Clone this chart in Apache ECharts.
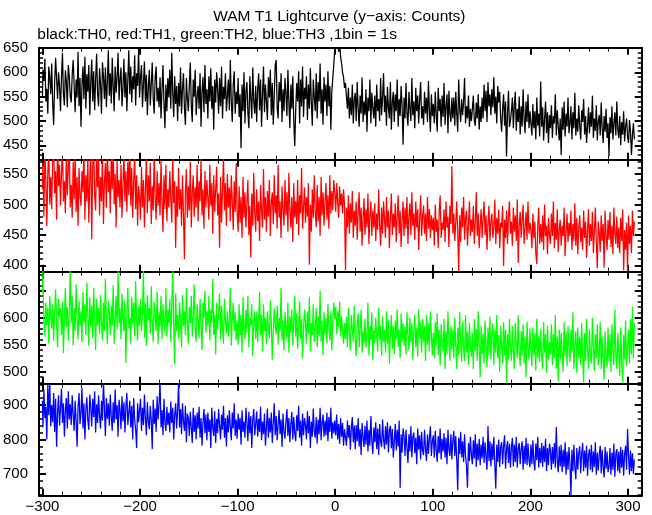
<!DOCTYPE html>
<html><head><meta charset="utf-8">
<script src="https://cdn.jsdelivr.net/npm/echarts@6/dist/echarts.min.js"></script>
<style>html,body{margin:0;padding:0;background:#fff}#c{width:652px;height:515px}</style>
</head><body><div id="c"></div>
<script>
// time of first bin (s); 1 bin = 1 s
const tStart = -300;
// TH0 (black)
const th0 = [
548,605,582,628,540,566,515,612,590,555,
618,535,492,578,630,588,545,600,572,520,
590,640,556,532,604,581,528,615,592,550,
538,596,625,572,518,585,548,642,530,588,
488,575,612,545,632,525,596,560,615,512,
580,626,540,602,522,585,638,556,530,608,
575,515,620,592,545,610,528,580,645,552,
598,536,630,570,520,612,558,590,640,542,
585,610,530,568,628,548,600,520,585,645,
555,612,538,592,565,635,532,598,572,648,
548,590,615,528,578,622,540,595,512,570,
605,532,575,620,548,515,590,612,540,568,
528,590,505,565,615,538,485,575,520,588,
548,605,525,640,560,508,592,535,572,500,
578,530,610,515,565,598,525,492,588,545,
520,575,620,532,498,585,550,605,512,548,
572,525,598,488,560,590,518,615,535,565,
505,592,540,608,525,572,482,585,538,600,
565,515,588,530,612,505,570,545,598,520,
552,585,522,625,538,498,575,602,515,560,
535,588,508,555,444,575,520,600,495,562,
580,518,485,592,548,505,610,540,515,572,
498,565,598,522,585,488,555,612,518,575,
540,502,590,548,605,512,578,492,550,615,
625,528,505,580,540,598,498,565,520,588,
555,510,605,538,485,575,525,592,500,448,
522,578,540,602,495,585,530,612,508,568,
545,592,502,575,525,608,538,490,585,550,
520,598,505,580,540,618,515,565,492,590,
540,575,510,602,530,572,
482,
560,588,615,648,665,655,670,642,660,632,618,600,590,568,578,550,
525,568,505,548,512,575,495,545,
558,500,580,525,488,552,515,590,498,540,
512,565,478,548,520,585,495,558,528,505,
552,488,575,520,545,500,588,512,548,598,
518,552,490,570,528,505,580,482,540,560,
498,555,520,585,488,545,510,572,530,451,
548,505,578,515,490,560,525,500,588,512,
540,485,568,520,552,495,545,580,505,530,
492,560,515,548,498,582,520,478,555,510,
535,495,560,512,478,568,520,545,488,552,
508,578,492,530,555,475,562,515,498,548,
505,548,490,560,515,478,585,525,498,545,
512,540,588,495,530,505,552,488,525,500,
525,552,500,490,538,505,555,482,530,498,
548,505,575,520,562,498,580,530,555,512,
565,528,590,515,550,495,572,538,560,505,
478,525,555,490,540,427,515,562,488,500,
520,548,485,532,560,480,525,498,550,472,
530,488,565,505,475,540,498,555,485,520,
495,470,535,485,520,462,548,490,515,468,
581,488,528,460,505,540,475,518,455,512,
485,532,465,510,495,555,470,522,490,460,
505,430,528,482,540,468,515,488,548,475,
495,530,462,518,485,558,470,505,478,532,
490,462,522,498,545,472,510,455,488,528,
475,518,488,552,465,505,480,532,460,500,
512,470,538,485,455,510,478,525,465,495,
427,508,475,530,462,495,518,470,540,482,
465,510,450,498,472,520,458,488,505,468,
455,502,478,430,470,495,462
];
// TH1 (red)
const th1 = [
525,568,480,590,538,464,552,595,500,545,
492,578,598,518,555,475,605,530,565,498,
550,600,505,538,485,588,515,560,592,495,
532,478,570,508,585,488,545,465,560,515,
498,555,520,592,475,548,505,578,470,540,
595,443,560,605,515,490,588,528,575,482,
545,505,585,468,535,568,495,600,520,555,
485,578,525,598,500,550,462,572,512,540,
495,565,478,535,585,505,555,488,570,515,
602,498,560,478,538,580,492,548,465,530,
512,475,562,495,540,462,525,575,485,548,
505,568,468,530,490,585,508,475,555,498,
535,482,572,505,455,548,492,565,472,525,
495,555,510,470,582,502,538,429,530,480,
560,492,525,465,548,485,410,520,558,478,
530,490,570,462,518,548,480,528,495,565,
472,538,505,575,482,525,460,555,495,540,
510,475,565,498,535,452,548,488,525,562,
482,518,429,545,470,522,578,490,535,465,
550,495,528,472,548,505,458,538,488,568,
485,455,530,470,512,445,545,478,520,462,
505,540,450,498,413,518,465,552,485,455,
525,472,505,440,532,490,462,558,475,512,
455,522,480,540,448,502,520,468,548,485,
515,460,565,478,505,445,530,490,465,540,
482,520,455,552,492,462,512,438,535,478,
505,468,540,450,515,485,560,460,495,528,
470,512,480,535,401,500,455,525,478,548,
488,462,532,472,512,448,545,482,520,465,
505,535,475,515,460,548,485,522,490,540,
520,488,535,505,478,530,498,518,485,525,500,
392,495,462,515,452,502,470,522,445,490,
465,505,442,488,520,455,495,432,478,510,
450,492,462,518,435,482,505,448,490,462,
502,440,485,458,525,468,432,495,452,505,
475,445,512,462,490,428,478,518,450,485,
462,502,438,480,515,452,490,430,472,505,
448,495,460,512,435,482,502,450,520,465,
485,442,505,462,492,425,475,515,448,480,
498,452,485,440,512,460,492,445,482,458,
478,432,500,455,475,428,488,515,445,470,
458,492,438,505,462,480,430,498,468,563,
452,485,440,472,505,455,390,482,438,495,
462,512,442,478,490,432,468,505,448,475,
455,498,435,472,520,448,485,428,465,492,
445,478,505,450,482,425,470,498,440,472,
485,445,462,508,435,478,452,492,428,470,
462,498,399,475,445,490,435,480,505,452,
472,432,495,455,482,440,508,404,465,488,
445,475,500,435,462,488,442,505,452,470,
458,428,485,445,472,420,402,465,495,435,
468,438,482,425,500,448,465,418,478,450,
435,485,448,505,428,470,442,492,422,458,
475,432,465,448,495,415,455,485,438,470,
448,490,425,468,440,502,432,478,418,460,
482,438,462,425,490,445,472,412,455,492,
432,468,440,488,420,455,495,438,395,472,
455,422,482,440,468,396,490,448,425,475,
442,488,430,465,418,495,452,435,480,428,
462,420,478,440,492,392,458,425,470,390,
482,435,465,420,490,448,472
];
// TH2 (green)
const th2 = [
645,688,592,565,628,585,618,552,640,598,
580,625,558,612,652,590,545,635,602,618,
568,630,534,600,655,582,620,558,610,690,
590,640,548,618,575,662,598,560,632,585,
612,555,648,590,625,568,665,600,548,638,
582,622,562,655,598,540,635,585,618,570,
642,592,558,628,575,672,600,552,632,610,
568,622,585,660,552,598,640,578,688,590,
618,560,645,595,575,632,516,610,655,580,
600,552,638,588,628,565,668,595,558,622,
585,635,575,612,690,562,628,548,642,595,
618,570,658,592,555,630,602,575,648,552,
610,582,640,560,625,595,572,655,565,615,
590,635,555,622,688,585,514,645,575,605,
562,628,595,545,642,585,612,568,655,590,
552,620,590,640,565,602,662,578,555,625,
598,562,635,585,540,628,600,650,572,612,
585,640,558,615,590,672,568,605,532,628,
578,610,645,560,622,585,552,635,595,570,
612,565,592,655,548,598,628,575,610,558,
595,550,625,568,605,535,638,580,560,615,
572,640,545,600,585,625,528,590,612,560,
612,555,595,648,568,605,538,625,575,600,
552,612,582,562,632,590,522,575,618,585,
570,622,550,600,575,655,558,595,540,610,
585,560,628,535,602,572,615,548,595,640,
565,608,542,590,630,560,598,525,578,615,
592,552,612,570,638,538,590,568,625,555,
578,618,545,602,565,650,555,595,530,610,
570,600,552,625,580,558,612,540,595,628,
598,620,570,612,582,630,565,602,575,552,590,
560,602,545,618,572,540,605,578,555,622,
562,528,590,608,545,580,615,535,575,552,
598,545,568,628,530,585,558,610,522,578,
552,600,565,538,618,560,585,530,602,555,
578,535,612,552,595,515,568,605,542,585,
532,595,560,615,545,578,525,608,555,590,
548,585,532,610,565,540,600,555,590,522,
575,605,545,582,528,615,560,592,535,598,
555,585,520,605,550,590,538,612,568,530,
572,525,592,548,608,530,578,512,588,555,
538,598,505,575,532,612,548,520,585,542,
578,525,600,548,505,582,530,610,552,518,
592,545,520,605,535,575,512,590,548,528,
572,505,598,538,580,520,612,545,490,585,
532,570,515,595,548,508,582,530,602,522,
565,590,512,578,535,605,525,568,500,585,
545,515,592,530,578,480,570,522,598,548,
520,585,538,505,590,552,525,605,535,510,
575,530,588,515,565,490,592,545,522,580,
538,510,582,530,572,502,598,525,565,518,
580,528,505,592,535,570,498,585,522,555,
532,588,512,570,525,605,505,565,482,578,
520,572,535,500,592,528,575,510,585,540,
518,578,535,610,505,552,575,498,582,525,
565,512,590,530,480,572,520,598,538,505,
578,528,515,600,545,502,570,525,588,512,
535,592,505,565,520,485,575,530,508,582,
518,570,500,588,535,512,615,528,505,572,
530,492,582,515,480,568,522,595,510,545,
578,515,598,532,620,525,590
];
// TH3 (blue)
const th3 = [
912,835,945,862,895,800,960,870,965,838,
900,850,935,822,918,779,878,928,840,892,
948,848,905,808,885,920,832,940,858,902,
842,928,870,825,912,855,779,895,935,845,
880,950,832,905,800,888,922,855,828,930,
892,838,918,865,940,820,902,848,928,868,
832,912,855,968,892,810,920,860,905,840,
930,865,825,908,848,945,858,900,808,915,
885,830,925,852,908,820,895,935,842,878,
912,835,898,800,920,858,828,775,905,850,
885,918,825,892,842,930,860,812,908,852,
830,898,855,772,915,845,890,822,925,858,
902,968,835,885,812,918,850,825,895,842,
878,820,910,848,892,800,872,905,832,885,
965,835,888,815,905,852,825,898,792,875,
862,810,880,835,790,892,822,870,800,878,
832,895,805,862,782,850,888,818,872,798,
878,822,858,775,892,835,810,882,790,860,
818,888,840,800,872,828,898,805,862,780,
870,820,885,838,798,878,832,905,810,858,
802,875,828,862,785,885,822,852,805,892,
850,795,880,818,868,775,858,888,812,845,
882,808,860,822,895,798,852,815,875,782,
835,890,805,862,820,878,790,848,905,812,
868,798,845,885,815,858,778,875,822,802,
852,888,810,862,792,842,880,800,865,818,
795,870,825,898,805,855,782,875,812,862,
842,800,882,818,868,775,852,808,890,822,
805,865,788,858,815,892,798,848,872,808,
855,812,878,795,865,822,892,802,850,818,
855,812,872,800,845,788,862,808,848,782,830,
830,782,855,805,842,770,835,865,792,840,
772,842,795,862,780,830,755,848,805,778,
840,785,855,765,828,782,868,795,758,835,
792,850,772,832,755,845,795,778,858,800,
772,838,785,850,762,825,840,775,830,748,
795,845,768,828,780,855,659,815,762,832,
810,752,828,775,732,815,765,838,748,808,
820,760,805,728,832,770,812,742,822,768,
755,828,772,738,815,758,805,838,752,795,
812,748,825,768,735,810,760,832,742,802,
765,818,748,805,728,828,770,752,815,742,
798,825,752,810,738,653,805,758,822,748,
795,735,815,752,722,660,790,738,808,755,
728,798,745,815,720,788,740,802,725,785,
745,808,732,792,750,712,839,738,795,722,
788,740,808,728,657,785,735,800,720,778,
792,728,782,812,715,772,795,732,788,718,
778,805,722,785,735,808,718,775,790,728,
772,795,712,782,730,805,725,788,740,720,
785,728,798,735,710,788,740,808,718,775,
732,790,720,782,735,802,708,775,725,788,
768,712,778,730,790,718,836,735,705,780,
722,785,705,770,720,792,698,765,712,778,
728,637,770,708,785,718,685,775,712,760,
780,702,758,790,708,768,718,782,695,755,
772,712,785,705,765,720,792,698,762,710,
755,782,702,770,718,690,778,715,765,705,
720,775,698,762,712,788,692,758,772,708,
765,702,778,718,770,695,758,782,712,830,
755,698,768,708,760,700,742
];
// tick labels
const xTickValues = [-300,-200,-100,0,100,200,300];
const yTickValues = [[450,500,550,600,650],[400,450,500,550],[500,550,600,650],[700,800,900]];
const titleText = 'WAM T1 Lightcurve (y\u2212axis: Counts)';
const subText = 'black:TH0, red:TH1, green:TH2, blue:TH3 ,1bin = 1s';

// ---- layout / style ----
const seriesData = [th0, th1, th2, th3];
const colors = ['#000000', '#ff0000', '#00ff00', '#0000ff'];
const yRanges = [[420.4, 650.5], [389.5, 573.5], [477.8, 685.2], [637, 961.7]];
const yMinorStep = [10, 10, 10, 20];
const xRange = [-303.5, 314];
const gLeft = 37, gRight = 641.7, gTop = 47.7, gH = 112;
const FONT = "'Liberation Sans', Helvetica, Arial, sans-serif";

function range(a, b, s) { const r = []; for (let v = Math.ceil(a / s) * s; v <= b + 1e-9; v += s) r.push(Math.round(v * 1000) / 1000); return r; }
const minus = v => String(v).replace('-', '\u2212');

const grids = [], xAxes = [], yAxes = [], series = [];
for (let p = 0; p < 4; p++) {
  grids.push({ left: gLeft, top: gTop + p * gH, width: gRight - gLeft, height: gH, containLabel: false });
  const xMinor = range(xRange[0], xRange[1], 20);
  const base = { type: 'value', gridIndex: p, min: xRange[0], max: xRange[1], splitLine: { show: false } };
  xAxes.push(Object.assign({}, base, {
    position: 'bottom',
    axisLine: { show: true, onZero: false, lineStyle: { color: '#000', width: 2 } },
    axisTick: { show: true, inside: true, length: 7, customValues: xTickValues, lineStyle: { color: '#000', width: 2 } },
    axisLabel: { show: p === 3, customValues: xTickValues, formatter: minus, margin: 4, color: '#000', fontSize: 15, fontFamily: FONT }
  }));
  xAxes.push(Object.assign({}, base, {
    position: 'bottom',
    axisLine: { show: false, onZero: false },
    axisTick: { show: true, inside: true, length: 4, customValues: xMinor, lineStyle: { color: '#000', width: 1 } },
    axisLabel: { show: false }
  }));
  xAxes.push(Object.assign({}, base, {
    position: 'top',
    axisLine: { show: true, onZero: false, lineStyle: { color: '#000', width: 2 } },
    axisTick: { show: true, inside: true, length: 7, customValues: xTickValues, lineStyle: { color: '#000', width: 2 } },
    axisLabel: { show: false }
  }));
  xAxes.push(Object.assign({}, base, {
    position: 'top',
    axisLine: { show: false, onZero: false },
    axisTick: { show: true, inside: true, length: 4, customValues: xMinor, lineStyle: { color: '#000', width: 1 } },
    axisLabel: { show: false }
  }));

  const yr = yRanges[p];
  const yMinor = range(yr[0], yr[1], yMinorStep[p]);
  const ybase = { type: 'value', gridIndex: p, min: yr[0], max: yr[1], splitLine: { show: false } };
  yAxes.push(Object.assign({}, ybase, {
    position: 'left',
    axisLine: { show: true, onZero: false, lineStyle: { color: '#000', width: 2 } },
    axisTick: { show: true, inside: true, length: 7, customValues: yTickValues[p], lineStyle: { color: '#000', width: 2 } },
    axisLabel: { show: true, customValues: yTickValues[p], margin: 11, color: '#000', fontSize: 15, fontFamily: FONT }
  }));
  yAxes.push(Object.assign({}, ybase, {
    position: 'left',
    axisLine: { show: false, onZero: false },
    axisTick: { show: true, inside: true, length: 4, customValues: yMinor, lineStyle: { color: '#000', width: 1.5 } },
    axisLabel: { show: false }
  }));
  yAxes.push(Object.assign({}, ybase, {
    position: 'right',
    axisLine: { show: true, onZero: false, lineStyle: { color: '#000', width: 2 } },
    axisTick: { show: true, inside: true, length: 7, customValues: yTickValues[p], lineStyle: { color: '#000', width: 2 } },
    axisLabel: { show: false }
  }));
  yAxes.push(Object.assign({}, ybase, {
    position: 'right',
    axisLine: { show: false, onZero: false },
    axisTick: { show: true, inside: true, length: 4, customValues: yMinor, lineStyle: { color: '#000', width: 1.5 } },
    axisLabel: { show: false }
  }));

  series.push({
    type: 'line', xAxisIndex: p * 4, yAxisIndex: p * 4, step: 'middle', showSymbol: false, symbol: 'none',
    clip: true, animation: false,
    lineStyle: { color: colors[p], width: 1.25 },
    data: seriesData[p].map((v, i) => [tStart + i, v])
  });
}

const chart = echarts.init(document.getElementById('c'), null, { renderer: 'canvas' });
chart.setOption({
  animation: false,
  backgroundColor: '#fff',
  grid: grids, xAxis: xAxes, yAxis: yAxes, series: series,
  graphic: [
    { type: 'text', x: (gLeft + gRight) / 2, y: 16.5, style: { text: titleText, fill: '#000', font: '15.5px ' + FONT, textAlign: 'center', textVerticalAlign: 'middle' } },
    { type: 'text', x: 37.3, y: 34.5, style: { text: subText, fill: '#000', font: '15.5px ' + FONT, textAlign: 'left', textVerticalAlign: 'middle' } }
  ]
});
</script></body></html>
